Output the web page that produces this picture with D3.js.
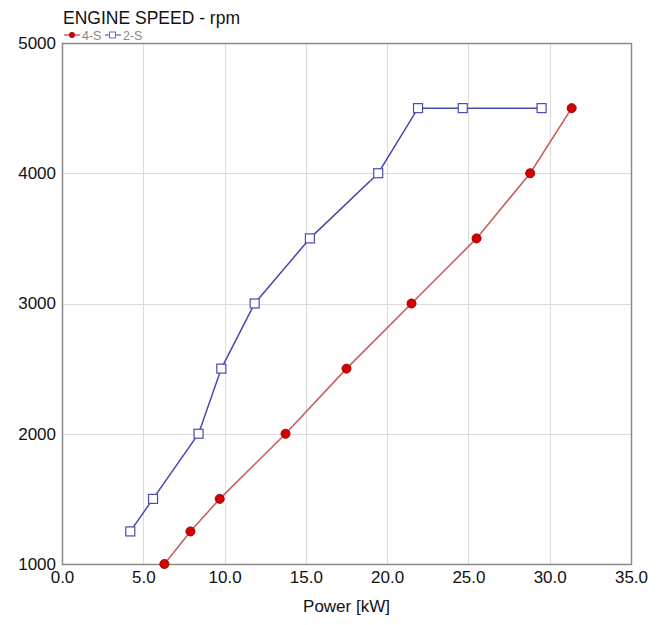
<!DOCTYPE html>
<html>
<meta charset="utf-8">
<head>
<style>
body { margin: 0; background: #fff; }
.grid line { stroke: #dcdcdc; shape-rendering: crispEdges; }
.axis text { font: 17px "Liberation Sans", Arial, sans-serif; fill: #111; }
.axis path, .axis line { display: none; }
</style>
<script src="https://d3js.org/d3.v7.min.js"></script>
</head>
<body>
<svg width="662" height="625"></svg>
<script>
// 4-S engine
var power4S = [6.3, 7.9, 9.7, 13.75, 17.5, 21.5, 25.5, 28.8, 31.35];
var rpm4S   = [1000, 1250, 1500, 2000, 2500, 3000, 3500, 4000, 4500];
// 2-S engine
var power2S = [4.2, 5.6, 8.4, 9.8, 11.85, 15.25, 19.45, 21.9, 24.65, 29.5];
var rpm2S   = [1250, 1500, 2000, 2500, 3000, 3500, 4000, 4500, 4500, 4500];

var xTicks = [0, 5, 10, 15, 20, 25, 30, 35];
var yTicks = [1000, 2000, 3000, 4000, 5000];

var svg = d3.select("svg"),
  pLeft = 62, pRight = 631, pTop = 43, pBottom = 564;

var x = d3.scaleLinear().domain([0, 35]).range([pLeft, pRight]);
var y = d3.scaleLinear().domain([1000, 5000]).range([pBottom, pTop]);

// gridlines
var grid = svg.append("g").attr("class", "grid");
grid.selectAll("line.v").data(xTicks.slice(1, -1)).enter().append("line")
  .attr("x1", d => Math.round(x(d)) + 0.5).attr("x2", d => Math.round(x(d)) + 0.5)
  .attr("y1", pTop).attr("y2", pBottom);
grid.selectAll("line.h").data(yTicks.slice(1, -1)).enter().append("line")
  .attr("x1", pLeft).attr("x2", pRight)
  .attr("y1", d => Math.round(y(d)) + 0.5).attr("y2", d => Math.round(y(d)) + 0.5);

// frame
svg.append("path")
  .attr("d", "M" + (pLeft + 0.5) + "," + (pTop + 0.5) + "V" + (pBottom + 0.5) + "H" + (pRight + 0.5) + "V" + (pTop + 0.5) + "Z")
  .attr("fill", "none").attr("stroke", "#8a8a8a").attr("stroke-width", 1.5);

// axes
svg.append("g").attr("class", "axis")
  .attr("transform", "translate(0," + (pBottom + 2) + ")")
  .call(d3.axisBottom(x).tickValues(xTicks).tickFormat(d3.format(".1f")).tickSize(0).tickPadding(5));
svg.append("g").attr("class", "axis")
  .attr("transform", "translate(" + (pLeft - 6) + ",0)")
  .call(d3.axisLeft(y).tickValues(yTicks).tickFormat(d => d).tickSize(0).tickPadding(0));

svg.append("text")
  .attr("x", (pLeft + pRight) / 2).attr("y", 612)
  .attr("text-anchor", "middle")
  .style("font", "17px 'Liberation Sans', Arial, sans-serif").style("fill", "#111")
  .text("Power [kW]");

svg.append("text")
  .attr("x", 63).attr("y", 24)
  .style("font", "17.5px 'Liberation Sans', Arial, sans-serif").style("fill", "#111")
  .text("ENGINE SPEED - rpm");

var line = d3.line().x(d => x(d[0])).y(d => y(d[1]));
var data2S = power2S.map((p, i) => [p, rpm2S[i]]);
var data4S = power4S.map((p, i) => [p, rpm4S[i]]);

svg.append("path").datum(data2S).attr("d", line)
  .attr("fill", "none").attr("stroke", "#4848b0").attr("stroke-width", 1.5);
svg.selectAll("rect.m2").data(data2S).enter().append("rect")
  .attr("x", d => x(d[0]) - 4.5).attr("y", d => y(d[1]) - 4.5)
  .attr("width", 9).attr("height", 9)
  .attr("fill", "#fff").attr("stroke", "#4a4ab4").attr("stroke-width", 1.2);

svg.append("path").datum(data4S).attr("d", line)
  .attr("fill", "none").attr("stroke", "#c85a5a").attr("stroke-width", 1.5);
svg.selectAll("circle.m4").data(data4S).enter().append("circle")
  .attr("cx", d => x(d[0])).attr("cy", d => y(d[1])).attr("r", 4.5)
  .attr("fill", "#d40000").attr("stroke", "#a00000").attr("stroke-width", 1);

// legend
var lg = svg.append("g").attr("transform", "translate(64,35)");
lg.append("line").attr("x1", 0).attr("x2", 16).attr("y1", 0).attr("y2", 0).attr("stroke", "#c85050").attr("stroke-width", 1.3);
lg.append("circle").attr("cx", 8).attr("cy", 0).attr("r", 3).attr("fill", "#c00000");
lg.append("text").attr("x", 18).attr("y", 4.5).style("font", "12.5px 'Liberation Sans', Arial, sans-serif").style("fill", "#888").text("4-S");
lg.append("line").attr("x1", 41).attr("x2", 57).attr("y1", 0).attr("y2", 0).attr("stroke", "#6a6ac0").attr("stroke-width", 1.3);
lg.append("rect").attr("x", 45.5).attr("y", -3).attr("width", 6).attr("height", 6).attr("fill", "#fff").attr("stroke", "#6a6ac0");
lg.append("text").attr("x", 59).attr("y", 4.5).style("font", "12.5px 'Liberation Sans', Arial, sans-serif").style("fill", "#888").text("2-S");
</script>
</body>
</html>
